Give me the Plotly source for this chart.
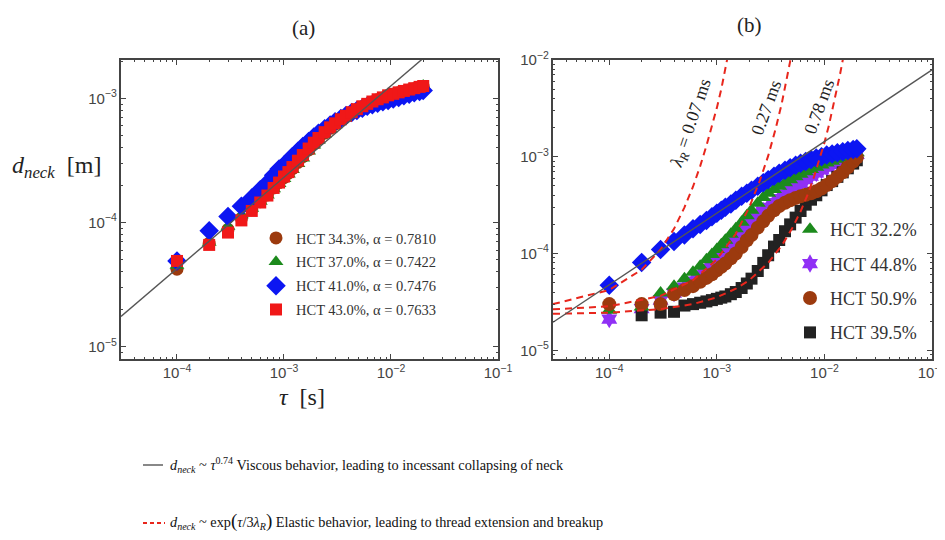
import plotly.graph_objects as go

# ---------------- data ----------------
tau = [1e-4, 2e-4, 3e-4, 4e-4, 5e-4, 6e-4, 7e-4, 8e-4, 9e-4, 1.0e-3, 1.1e-3, 1.2e-3,
       1.35e-3, 1.5e-3, 1.7e-3, 1.9e-3, 2.1e-3, 2.4e-3, 2.7e-3, 3.0e-3, 3.4e-3, 3.8e-3,
       4.3e-3, 4.8e-3, 5.4e-3, 6.0e-3, 6.7e-3, 7.5e-3, 8.4e-3, 9.4e-3, 1.05e-2, 1.18e-2,
       1.32e-2, 1.48e-2, 1.65e-2, 1.85e-2, 2.0e-2]

# panel (a)
a_hct343 = [4.2e-5, 6.8e-5, 8.8e-5, 1.08e-4, 1.27e-4, 1.47e-4, 1.67e-4, 1.9e-4, 2.1e-4, 2.3e-4,
            2.5e-4, 2.72e-4, 3.05e-4, 3.4e-4, 3.85e-4, 4.3e-4, 4.7e-4, 5.25e-4, 5.75e-4, 6.2e-4,
            6.7e-4, 7.15e-4, 7.65e-4, 8.1e-4, 8.55e-4, 8.95e-4, 9.35e-4, 9.75e-4, 1.01e-3, 1.05e-3,
            1.08e-3, 1.11e-3, 1.14e-3, 1.17e-3, 1.2e-3, 1.23e-3, 1.25e-3]
a_hct370 = [4.5e-5, 6.9e-5, 9.3e-5, 1.15e-4, 1.3e-4, 1.48e-4, 1.66e-4, 1.86e-4, 2.05e-4, 2.25e-4,
            2.45e-4, 2.66e-4, 2.98e-4, 3.3e-4, 3.75e-4, 4.2e-4, 4.6e-4, 5.15e-4, 5.65e-4, 6.1e-4,
            6.6e-4, 7.05e-4, 7.55e-4, 8.0e-4, 8.5e-4, 8.95e-4, 9.35e-4, 9.75e-4, 1.01e-3, 1.05e-3,
            1.09e-3, 1.12e-3, 1.15e-3, 1.18e-3, 1.21e-3, 1.24e-3, 1.27e-3]
a_hct410 = [4.9e-5, 8.6e-5, 1.12e-4, 1.35e-4, 1.58e-4, 1.84e-4, 2.08e-4, 2.4e-4, 2.7e-4, 2.9e-4,
            3.15e-4, 3.4e-4, 3.75e-4, 4.1e-4, 4.5e-4, 4.9e-4, 5.25e-4, 5.7e-4, 6.1e-4, 6.5e-4,
            6.9e-4, 7.3e-4, 7.7e-4, 8.0e-4, 8.35e-4, 8.65e-4, 8.9e-4, 9.15e-4, 9.4e-4, 9.65e-4,
            9.9e-4, 1.02e-3, 1.05e-3, 1.08e-3, 1.11e-3, 1.14e-3, 1.16e-3]
a_hct430 = [4.9e-5, 6.6e-5, 8.3e-5, 1.04e-4, 1.24e-4, 1.45e-4, 1.65e-4, 1.9e-4, 2.1e-4, 2.35e-4,
            2.55e-4, 2.8e-4, 3.15e-4, 3.5e-4, 3.95e-4, 4.4e-4, 4.8e-4, 5.35e-4, 5.85e-4, 6.3e-4,
            6.8e-4, 7.25e-4, 7.75e-4, 8.2e-4, 8.65e-4, 9.05e-4, 9.45e-4, 9.85e-4, 1.02e-3, 1.06e-3,
            1.09e-3, 1.12e-3, 1.15e-3, 1.18e-3, 1.21e-3, 1.24e-3, 1.26e-3]
a_labels = ["HCT 34.3%, \u03b1 = 0.7810", "HCT 37.0%, \u03b1 = 0.7422",
            "HCT 41.0%, \u03b1 = 0.7476", "HCT 43.0%, \u03b1 = 0.7633"]

# viscous power-law line, end points
a_line_tau = [3e-5, 1e-1]
a_line_d = [1.75e-5, 6.9e-3]
b_line_tau = [3e-5, 1e-1]
b_line_d = [1.95e-5, 7.9e-3]

# panel (b)
b_hct322 = [2.6e-5, 2.8e-5, 3.9e-5, 4.6e-5, 5.5e-5, 6.4e-5, 7.4e-5, 8.6e-5, 9.8e-5, 1.1e-4,
            1.23e-4, 1.37e-4, 1.58e-4, 1.8e-4, 2.1e-4, 2.45e-4, 2.8e-4, 3.3e-4, 3.8e-4, 4.2e-4,
            4.6e-4, 4.95e-4, 5.4e-4, 5.8e-4, 6.2e-4, 6.6e-4, 7.0e-4, 7.4e-4, 7.8e-4, 8.2e-4,
            8.6e-4, 9.0e-4, 9.4e-4, 9.8e-4, 1.02e-3, 1.07e-3, 1.1e-3]
b_hct448 = [2.1e-5, 2.7e-5, 3.3e-5, 3.9e-5, 4.5e-5, 5.2e-5, 6.0e-5, 6.9e-5, 7.8e-5, 8.8e-5,
            9.9e-5, 1.1e-4, 1.28e-4, 1.47e-4, 1.72e-4, 1.98e-4, 2.2e-4, 2.5e-4, 2.75e-4, 3.0e-4,
            3.35e-4, 3.7e-4, 4.1e-4, 4.5e-4, 4.95e-4, 5.3e-4, 5.8e-4, 6.3e-4, 6.8e-4, 7.3e-4,
            7.8e-4, 8.3e-4, 8.8e-4, 9.3e-4, 9.8e-4, 1.03e-3, 1.06e-3]
b_hct509 = [3.0e-5, 3.0e-5, 3.0e-5, 3.8e-5, 4.2e-5, 4.6e-5, 5.1e-5, 5.6e-5, 6.1e-5, 6.7e-5,
            7.3e-5, 7.9e-5, 8.9e-5, 1.0e-4, 1.17e-4, 1.37e-4, 1.55e-4, 1.85e-4, 2.15e-4, 2.45e-4,
            2.8e-4, 3.1e-4, 3.35e-4, 3.55e-4, 3.75e-4, 3.9e-4, 4.05e-4, 4.2e-4, 4.4e-4, 4.7e-4,
            5.1e-4, 5.6e-4, 6.2e-4, 6.9e-4, 7.8e-4, 8.9e-4, 9.8e-4]
b_hct395 = [None, 2.3e-5, 2.45e-5, 2.5e-5, 2.9e-5, 3.0e-5, 3.1e-5, 3.2e-5, 3.3e-5, 3.4e-5,
            3.5e-5, 3.6e-5, 3.8e-5, 4.0e-5, 4.4e-5, 4.9e-5, 5.5e-5, 6.6e-5, 8.0e-5, 9.6e-5,
            1.18e-4, 1.38e-4, 1.7e-4, 2.0e-4, 2.35e-4, 2.75e-4, 3.2e-4, 3.6e-4, 4.0e-4, 4.5e-4,
            5.1e-4, 5.6e-4, 6.2e-4, 6.9e-4, 7.6e-4, 8.5e-4, 9.2e-4]
b_hct410 = [4.7e-5, 8.1e-5, 1.1e-4, 1.33e-4, 1.55e-4, 1.8e-4, 2.0e-4, 2.2e-4, 2.4e-4, 2.6e-4,
            2.8e-4, 3.0e-4, 3.25e-4, 3.55e-4, 3.9e-4, 4.2e-4, 4.5e-4, 4.95e-4, 5.4e-4, 5.8e-4,
            6.3e-4, 6.75e-4, 7.25e-4, 7.7e-4, 8.15e-4, 8.55e-4, 8.95e-4, 9.35e-4, 9.7e-4, 1.0e-3,
            1.04e-3, 1.07e-3, 1.1e-3, 1.13e-3, 1.16e-3, 1.19e-3, 1.21e-3]

# elastic (exponential) fits
el007_tau = [3e-5, 1e-4, 2e-4, 3e-4, 4e-4, 5e-4, 6e-4, 7e-4, 8e-4, 9e-4, 1.0e-3, 1.1e-3, 1.2e-3, 1.25e-3]
el007_d = [3.0e-5, 4.2e-5, 6.8e-5, 1.1e-4, 1.8e-4, 3.0e-4, 4.9e-4, 8.0e-4, 1.3e-3, 2.05e-3,
           3.2e-3, 5.0e-3, 8.1e-3, 1.03e-2]
el027_tau = [3e-5, 1e-4, 3e-4, 6e-4, 1.0e-3, 1.5e-3, 2.0e-3, 2.5e-3, 3.0e-3, 3.5e-3, 4.0e-3, 4.5e-3, 5.0e-3, 5.1e-3]
el027_d = [2.65e-5, 2.85e-5, 3.65e-5, 5.3e-5, 8.7e-5, 1.6e-4, 3.0e-4, 5.6e-4, 1.02e-3, 1.9e-3,
           3.5e-3, 6.5e-3, 1.2e-2, 1.35e-2]
el078_tau = [3e-5, 1e-4, 3e-4, 6e-4, 1.0e-3, 1.5e-3, 2.0e-3, 3.0e-3, 4.0e-3, 5.0e-3, 6.0e-3, 7.0e-3,
             8.0e-3, 9.0e-3, 1.0e-2, 1.1e-2, 1.2e-2, 1.3e-2, 1.4e-2, 1.5e-2, 1.55e-2]
el078_d = [2.38e-5, 2.45e-5, 2.66e-5, 3.0e-5, 3.53e-5, 4.33e-5, 5.3e-5, 8.0e-5, 1.2e-4, 1.81e-4,
           2.72e-4, 4.1e-4, 6.2e-4, 9.3e-4, 1.4e-3, 2.1e-3, 3.2e-3, 4.7e-3, 7.2e-3, 1.08e-2, 1.33e-2]

# ---------------- styling ----------------
BROWN = "#9c3a0e"
GREEN = "#1c8a1c"
BLUE = "#0c16f2"
RED = "#f01818"
PURPLE = "#9030f5"
BLACK = "#222222"
GRAY = "#555555"
ELRED = "#e8261c"
SERIF = "Liberation Serif, Times New Roman, serif"
SANS = "Liberation Sans, Arial, sans-serif"

fig = go.Figure()

def add_pts(x, y, name, sym, color, size, xa, ya, legend, rank):
    fig.add_trace(go.Scatter(
        x=x, y=y, mode="markers", name=name, xaxis=xa, yaxis=ya,
        marker=dict(symbol=sym, color=color, size=size, line=dict(width=0)),
        legend=legend, legendgroup=name, legendrank=rank, showlegend=True))

# panel (a)
add_pts(tau, a_hct343, a_labels[0], "circle", BROWN, 13, "x", "y", "legend", 1)
add_pts(tau, a_hct370, a_labels[1], "triangle-up", GREEN, 13, "x", "y", "legend", 2)
add_pts(tau, a_hct410, a_labels[2], "diamond", BLUE, 15, "x", "y", "legend", 3)
add_pts(tau, a_hct430, a_labels[3], "square", RED, 12, "x", "y", "legend", 4)
fig.add_trace(go.Scatter(x=a_line_tau, y=a_line_d, mode="lines", xaxis="x", yaxis="y",
                         line=dict(color=GRAY, width=1.4), showlegend=False))

# panel (b)
add_pts(tau, b_hct448, "HCT 44.8%", "hexagram", PURPLE, 14, "x2", "y2", "legend2", 2)
add_pts(tau, b_hct395, "HCT 39.5%", "square", BLACK, 12, "x2", "y2", "legend2", 4)
add_pts(tau, b_hct322, "HCT 32.2%", "triangle-up", GREEN, 14, "x2", "y2", "legend2", 1)
add_pts(tau, b_hct509, "HCT 50.9%", "circle", BROWN, 14, "x2", "y2", "legend2", 3)
fig.add_trace(go.Scatter(x=tau, y=b_hct410, mode="markers", xaxis="x2", yaxis="y2",
                         marker=dict(symbol="diamond", color=BLUE, size=15), showlegend=False))
for tx, dy in [(el007_tau, el007_d), (el027_tau, el027_d), (el078_tau, el078_d)]:
    fig.add_trace(go.Scatter(x=tx, y=dy, mode="lines", xaxis="x2", yaxis="y2",
                             line=dict(color=ELRED, width=2, dash="7px,5px"), showlegend=False))
fig.add_trace(go.Scatter(x=b_line_tau, y=b_line_d, mode="lines", xaxis="x2", yaxis="y2",
                         line=dict(color=GRAY, width=1.4), showlegend=False))

W, H = 945, 540
OFF = 8  # the page places the figure 8 px from the top-left corner
def px(x):
    return (x - OFF) / W
def py(y):
    return 1 - (y - OFF) / H

axis_common = dict(type="log", showgrid=False, zeroline=False, showline=True, linecolor="#444",
                   linewidth=1.5, mirror="ticks", ticks="inside", ticklen=5, tickcolor="#444",
                   dtick=1, exponentformat="power", showexponent="all", automargin=False,
                   tickfont=dict(family=SANS, size=12, color="#444"),
                   minor=dict(ticks="inside", ticklen=2.5, tickcolor="#444", dtick="D1"))

xr = [-4.523, -1.0]
fig.update_layout(
    width=W, height=H, margin=dict(l=0, r=0, t=0, b=0, autoexpand=False),
    paper_bgcolor="white", plot_bgcolor="white",
    xaxis=dict(axis_common, domain=[px(121), px(498)], range=xr, anchor="y"),
    yaxis=dict(axis_common, domain=[py(359), py(60)], range=[-5.1, -2.69], anchor="x"),
    xaxis2=dict(axis_common, domain=[px(553), px(932)], range=xr, anchor="y2"),
    yaxis2=dict(axis_common, domain=[py(359), py(60)], range=[-5.09, -2.0], anchor="x2"),
    legend=dict(x=px(256), y=py(222), xanchor="left", yanchor="top", bgcolor="rgba(0,0,0,0)",
                font=dict(family=SERIF, size=14.5, color="#333"), traceorder="grouped",
                tracegroupgap=2, itemsizing="trace"),
    legend2=dict(x=px(790), y=py(211), xanchor="left", yanchor="top", bgcolor="rgba(0,0,0,0)",
                 font=dict(family=SERIF, size=18, color="#333"), traceorder="grouped",
                 tracegroupgap=8, itemsizing="trace"),
)

ann = []
ann.append(dict(text="(a)", x=px(303), y=py(28), font=dict(family=SERIF, size=21, color="#222")))
ann.append(dict(text="(b)", x=px(749), y=py(25), font=dict(family=SERIF, size=21, color="#222")))
ann.append(dict(text="<i>d</i><sub><i>neck</i></sub>  [m]", x=px(56), y=py(167),
                font=dict(family=SERIF, size=24, color="#222")))
ann.append(dict(text="<i>\u03c4</i>  [s]", x=px(302), y=py(397),
                font=dict(family=SERIF, size=24, color="#222")))
ann.append(dict(text="<i>\u03bb<sub>R</sub></i> = 0.07 ms", x=px(692), y=py(124), textangle=-71,
                font=dict(family=SERIF, size=18, color="#222")))
ann.append(dict(text="0.27 ms", x=px(766), y=py(108), textangle=-70,
                font=dict(family=SERIF, size=18, color="#222")))
ann.append(dict(text="0.78 ms", x=px(819), y=py(107), textangle=-70,
                font=dict(family=SERIF, size=18, color="#222")))
ann.append(dict(text="<i>d</i><sub><i>neck</i></sub> ~ <i>\u03c4</i><sup>0.74</sup> Viscous behavior, leading to incessant collapsing of neck",
                x=px(168), y=py(465), xanchor="left",
                font=dict(family=SERIF, size=14.3, color="#111")))
ann.append(dict(text="<i>d</i><sub><i>neck</i></sub> ~ exp<span style='font-size:19px'>(</span><i>\u03c4</i>/3<i>\u03bb</i><sub><i>R</i></sub><span style='font-size:19px'>)</span> Elastic behavior, leading to thread extension and breakup",
                x=px(168), y=py(521), xanchor="left",
                font=dict(family=SERIF, size=14.3, color="#111")))
for a in ann:
    a.setdefault("xref", "paper")
    a.setdefault("yref", "paper")
    a.setdefault("showarrow", False)
    a.setdefault("xanchor", "center")
    a.setdefault("yanchor", "middle")
fig.update_layout(annotations=ann)

fig.update_layout(shapes=[
    dict(type="line", xref="paper", yref="paper", x0=px(143), x1=px(163), y0=py(465), y1=py(465),
         line=dict(color=GRAY, width=1.4)),
    dict(type="line", xref="paper", yref="paper", x0=px(143), x1=px(165), y0=py(523), y1=py(523),
         line=dict(color=ELRED, width=2, dash="4px,3px")),
])

fig.write_html("out.html")
